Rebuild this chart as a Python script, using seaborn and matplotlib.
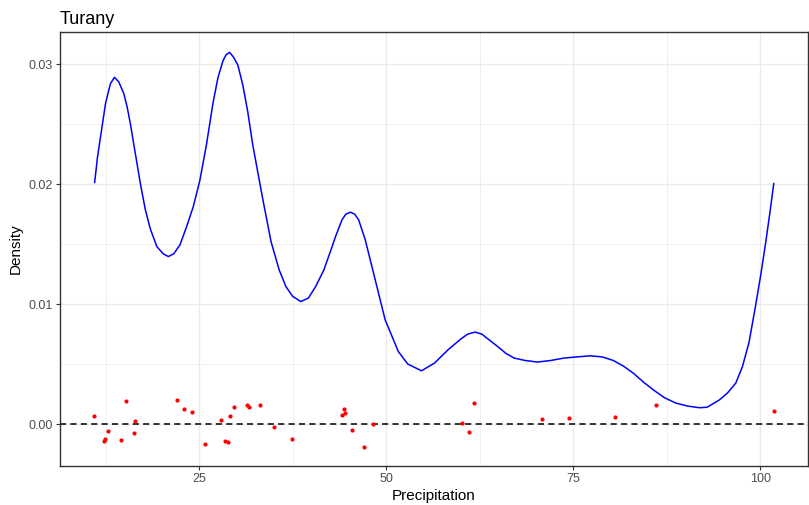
import matplotlib
matplotlib.use("Agg")
import matplotlib.pyplot as plt
from matplotlib.ticker import MultipleLocator
import seaborn as sns
import pandas as pd

# Estimated density curve of precipitation (Turany station)
curve_x = [11.03, 11.4, 11.82, 12.49, 12.9, 13.15, 13.68, 14.25, 14.92, 15.37,
           15.8, 16.24, 16.69, 17.13, 17.8, 18.46, 19.35, 20.2, 20.89, 21.6,
           22.44, 23.33, 24.2, 25.09, 25.98, 26.86, 27.52, 28.19, 28.6, 29.07,
           29.6, 30.18, 30.84, 31.5, 32.17, 32.83, 33.49, 34.61, 35.7, 36.6,
           37.5, 38.58, 39.6, 40.58, 41.68, 42.78, 43.23, 44.1, 44.6, 45.22,
           45.8, 46.33, 47.21, 48.54, 49.87, 51.63, 52.9, 54.73, 56.5, 58.27,
           60.0, 60.9, 61.89, 62.8, 63.4, 64.9, 66.0, 67.12, 68.6, 70.21,
           72.0, 73.75, 75.5, 77.28, 78.9, 80.38, 81.8, 83.03, 84.4, 85.7,
           87.2, 88.73, 90.3, 91.88, 92.9, 94.53, 95.65, 96.75, 97.64, 98.51,
           99.4, 100.1, 100.73, 101.3, 101.83]
curve_density = [0.02013, 0.0222, 0.02397, 0.02675, 0.0278, 0.0284, 0.02892, 0.02855, 0.02758, 0.02647,
                 0.02508, 0.02342, 0.02175, 0.0201, 0.0179, 0.0163, 0.0148, 0.0142, 0.01397, 0.0142,
                 0.01494, 0.01647, 0.0181, 0.0203, 0.0233, 0.0268, 0.0289, 0.0303, 0.0308, 0.031,
                 0.0306, 0.02994, 0.02828, 0.02605, 0.02328, 0.02105, 0.01883, 0.01522, 0.01286, 0.01147,
                 0.01065, 0.01022, 0.0105, 0.01147, 0.01286, 0.0148, 0.01563, 0.01703, 0.0175, 0.01767,
                 0.0175, 0.01703, 0.01536, 0.01203, 0.00869, 0.00605, 0.005, 0.00444, 0.0051, 0.00619,
                 0.0071, 0.0075, 0.00767, 0.0075, 0.0072, 0.00647, 0.0059, 0.0055, 0.0053, 0.00517,
                 0.0053, 0.0055, 0.0056, 0.00569, 0.0056, 0.0053, 0.0048, 0.00425, 0.0035, 0.00286,
                 0.0022, 0.00175, 0.0015, 0.00136, 0.0014, 0.002, 0.0026, 0.00342, 0.0048, 0.0068,
                 0.0099, 0.0125, 0.01508, 0.0176, 0.02008]

# Observed precipitation values with vertical jitter
obs_precip = [10.94, 12.79, 12.4, 12.26, 15.18, 16.38, 16.24, 14.61, 22.04, 22.93,
              24.07, 25.8, 27.88, 28.41, 28.9, 29.17, 29.65, 31.37, 31.64, 33.15,
              34.95, 37.39, 44.42, 44.47, 44.16, 45.49, 48.18, 47.08, 60.08, 61.06,
              61.76, 70.87, 74.45, 80.56, 86.13, 101.83]
obs_jitter = [0.00063, -0.00056, -0.00125, -0.00139, 0.00194, 0.00028, -0.00078, -0.00136,
              0.00197, 0.00125, 0.00097, -0.00164, 0.00036, -0.00145, -0.00153, 0.00067,
              0.00144, 0.00155, 0.00144, 0.00161, -0.00025, -0.00122, 0.00122, 0.00088,
              0.00078, -0.00047, 0.00003, -0.00195, 0.00008, -0.00064, 0.00175, 0.00044,
              0.00053, 0.00058, 0.00161, 0.00108]

x_ticks = [25, 50, 75, 100]
y_ticks = [0.00, 0.01, 0.02, 0.03]
y_tick_labels = ["0.00", "0.01", "0.02", "0.03"]

curve_df = pd.DataFrame({"Precipitation": curve_x, "Density": curve_density})
obs_df = pd.DataFrame({"Precipitation": obs_precip, "Density": obs_jitter})

sns.set_theme(style="whitegrid")
plt.rcParams["font.family"] = ["Liberation Sans", "DejaVu Sans"]

fig = plt.figure(figsize=(8.09, 5.05), dpi=100)
ax = fig.add_axes([60 / 809, 1 - 466 / 505, 748 / 809, 434 / 505])

ax.axhline(0, color="black", linewidth=1.1, linestyle=(0, (4, 2.8)), zorder=2)
sns.lineplot(data=curve_df, x="Precipitation", y="Density", color="blue",
             linewidth=1.1, ax=ax, zorder=3)
sns.scatterplot(data=obs_df, x="Precipitation", y="Density", color="red",
                s=9, linewidth=0, ax=ax, zorder=4)

ax.set_xlim(6.4, 106.4)
ax.set_ylim(-0.0035, 0.0327)
ax.set_xticks(x_ticks)
ax.set_yticks(y_ticks)
ax.set_yticklabels(y_tick_labels)
ax.xaxis.set_minor_locator(MultipleLocator(12.5))
ax.yaxis.set_minor_locator(MultipleLocator(0.005))

ax.set_facecolor("white")
ax.grid(which="major", color="#EBEBEB", linewidth=1.0)
ax.grid(which="minor", color="#EBEBEB", linewidth=0.5)
ax.set_axisbelow(True)
for spine in ax.spines.values():
    spine.set_color("#333333")
    spine.set_linewidth(1.0)

ax.tick_params(axis="both", which="major", length=3, width=0.8, color="#333333",
               labelsize=9, labelcolor="#4D4D4D", pad=2, bottom=True, left=True)
ax.tick_params(axis="both", which="minor", length=0)

ax.set_xlabel("Precipitation", fontsize=11, color="black", labelpad=3)
ax.set_ylabel("Density", fontsize=11, color="black", labelpad=4)
ax.set_title("Turany", loc="left", fontsize=13, color="black", pad=6)

fig.savefig("out.png", dpi=100, facecolor="white")
